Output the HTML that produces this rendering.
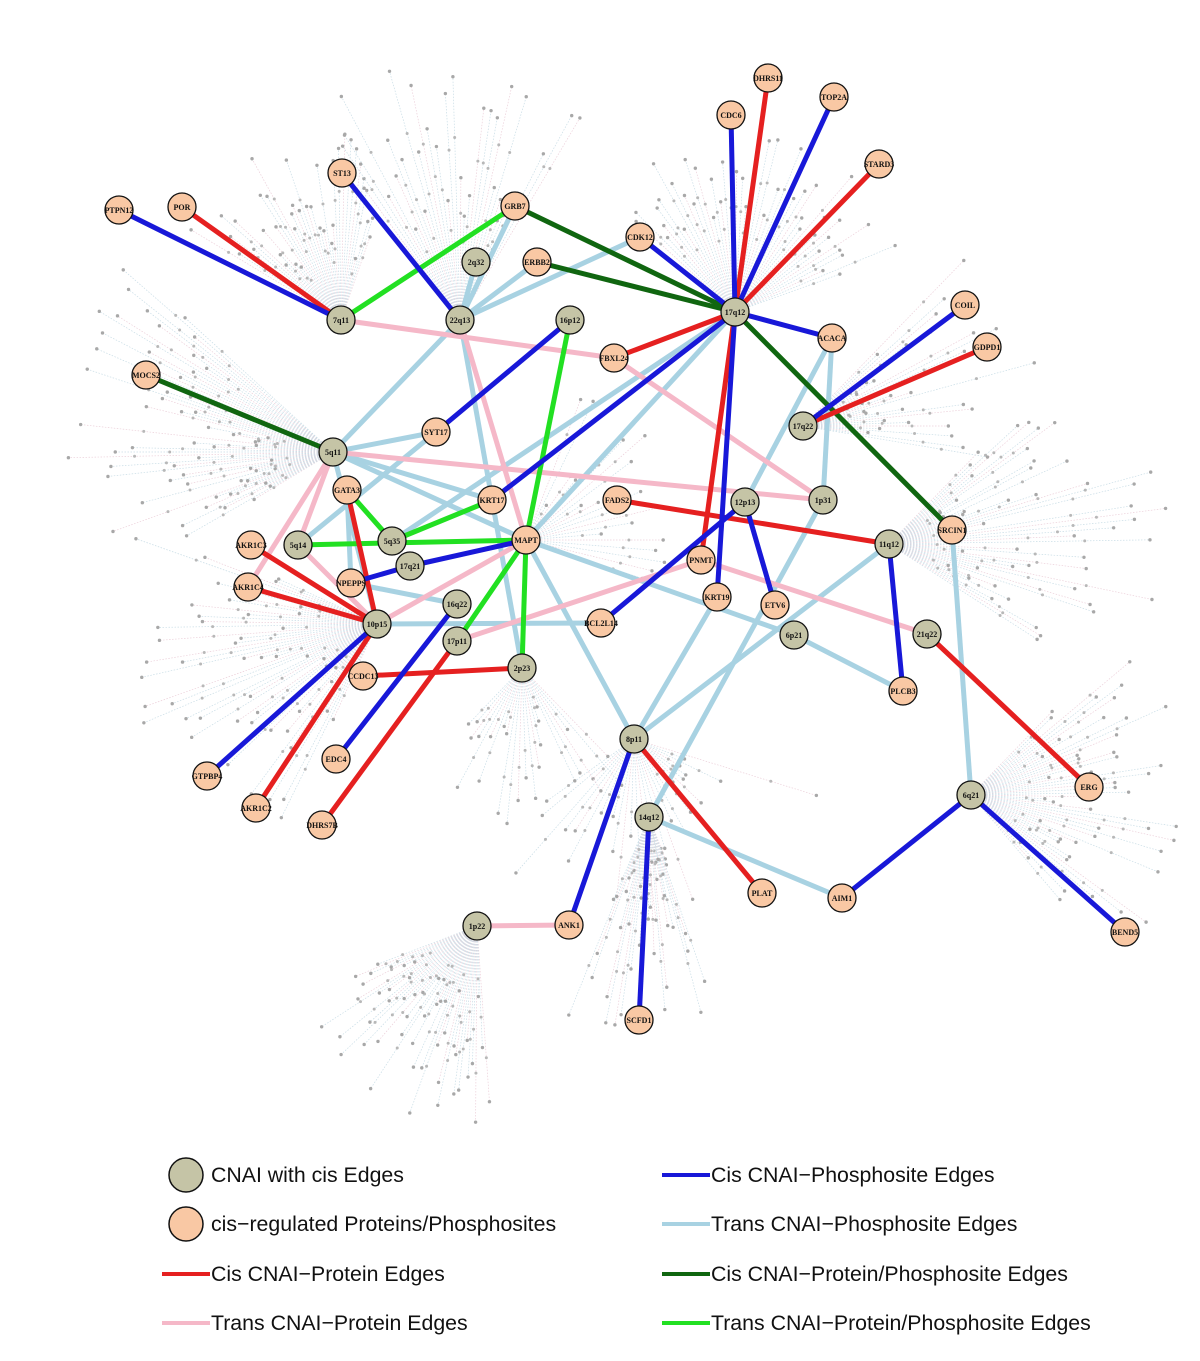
<!DOCTYPE html>
<html><head><meta charset="utf-8">
<style>
html,body{margin:0;padding:0;background:#fff;}
svg{display:block;}
.lg{font-family:"Liberation Sans",sans-serif;font-size:21.3px;fill:#111;}
.nl{font-family:"Liberation Serif",serif;font-size:8px;font-weight:bold;fill:#111;text-anchor:middle;dominant-baseline:central;}
</style></head>
<body>
<svg id="s" width="1200" height="1361" xmlns="http://www.w3.org/2000/svg">
<g id="fan"></g>
<g id="edges"></g>
<g id="nodes"></g>
<g>
<circle cx="186" cy="1175" r="17" fill="#c5c4a6" stroke="#111" stroke-width="1.5"/>
<circle cx="186" cy="1224" r="17" fill="#f9c8a4" stroke="#111" stroke-width="1.5"/>
<line x1="162" y1="1274" x2="210" y2="1274" stroke="#e52020" stroke-width="4"/>
<line x1="162" y1="1323" x2="210" y2="1323" stroke="#f5b8c8" stroke-width="4"/>
<line x1="662" y1="1175" x2="710" y2="1175" stroke="#1818d8" stroke-width="4"/>
<line x1="662" y1="1224" x2="710" y2="1224" stroke="#a8d2e2" stroke-width="4"/>
<line x1="662" y1="1274" x2="710" y2="1274" stroke="#106610" stroke-width="4"/>
<line x1="662" y1="1323" x2="710" y2="1323" stroke="#22e022" stroke-width="4"/>
<text class="lg" x="211" y="1182">CNAI with cis Edges</text>
<text class="lg" x="211" y="1231">cis−regulated Proteins/Phosphosites</text>
<text class="lg" x="211" y="1281">Cis CNAI−Protein Edges</text>
<text class="lg" x="211" y="1330">Trans CNAI−Protein Edges</text>
<text class="lg" x="711" y="1182">Cis CNAI−Phosphosite Edges</text>
<text class="lg" x="711" y="1231">Trans CNAI−Phosphosite Edges</text>
<text class="lg" x="711" y="1281">Cis CNAI−Protein/Phosphosite Edges</text>
<text class="lg" x="711" y="1330">Trans CNAI−Protein/Phosphosite Edges</text>
</g>
</svg>
<script>
var N={
'7q11':[341,320,0],'22q13':[460,320,0],'2q32':[476,262,0],'16p12':[570,320,0],'17q12':[735,312,0],'17q22':[803,426,0],'5q11':[333,452,0],'1p31':[823,500,0],'12p13':[745,502,0],'11q12':[889,544,0],'5q14':[298,545,0],'5q35':[392,541,0],'17q21':[410,566,0],'16q22':[457,604,0],'10p15':[377,624,0],'17p11':[457,641,0],'2p23':[522,668,0],'6p21':[794,635,0],'21q22':[927,634,0],'8p11':[634,739,0],'14q12':[649,817,0],'6q21':[971,795,0],'1p22':[477,926,0],
'PTPN12':[119,210,1],'POR':[182,207,1],'ST13':[342,173,1],'GRB7':[515,206,1],'ERBB2':[537,262,1],'CDK12':[640,237,1],'CDC6':[731,115,1],'DHRS11':[768,78,1],'TOP2A':[834,97,1],'STARD3':[879,164,1],'COIL':[965,305,1],'GDPD1':[987,347,1],'ACACA':[832,338,1],'FBXL24':[614,358,1],'MOCS2':[146,375,1],'SYT17':[436,432,1],'GATA3':[347,490,1],'KRT17':[492,500,1],'FADS2':[617,500,1],'MAPT':[526,540,1],'AKR1C3':[251,545,1],'AKR1C4':[248,587,1],'NPEPPS':[351,583,1],'PNMT':[701,560,1],'KRT19':[717,597,1],'ETV6':[775,605,1],'BCL2L14':[601,623,1],'SRCIN1':[952,530,1],'CCDC13':[363,676,1],'PLCB3':[903,691,1],'EDC4':[336,759,1],'GTPBP4':[207,776,1],'AKR1C2':[256,808,1],'DHRS7B':[322,825,1],'ERG':[1089,787,1],'PLAT':[762,893,1],'AIM1':[842,898,1],'ANK1':[569,925,1],'BEND5':[1125,932,1],'SCFD1':[639,1020,1]};
var C={lb:'#a8d2e2',pk:'#f5b8c8',b:'#1818d8',r:'#e52020',dg:'#106610',g:'#22e022'};
var E=[
['lb','2q32','22q13'],['lb','GRB7','22q13'],['lb','22q13','CDK12'],['lb','22q13','ERBB2'],['lb','5q11','SYT17'],['lb','5q11','22q13'],['lb','5q11','MAPT'],['lb','5q11','KRT17'],['lb','5q11','10p15'],['lb','1p31','ACACA'],['lb','12p13','ACACA'],['lb','MAPT','8p11'],['lb','8p11','KRT19'],['lb','14q12','1p31'],['lb','14q12','AIM1'],['lb','6q21','SRCIN1'],['lb','6p21','PLCB3'],['lb','6p21','MAPT'],['lb','10p15','BCL2L14'],['lb','8p11','11q12'],['lb','17q12','5q35'],['lb','NPEPPS','16q22'],['lb','22q13','2p23'],['lb','17q12','MAPT'],['lb','5q14','SYT17'],['lb','GATA3','NPEPPS'],
['pk','7q11','FBXL24'],['pk','22q13','MAPT'],['pk','FBXL24','1p31'],['pk','5q11','1p31'],['pk','5q11','5q14'],['pk','17p11','PNMT'],['pk','PNMT','21q22'],['pk','1p22','ANK1'],['pk','5q11','AKR1C4'],['pk','10p15','MAPT'],['pk','5q14','10p15'],
['g','GRB7','7q11'],['g','16p12','MAPT'],['g','5q35','KRT17'],['g','5q14','MAPT'],['g','MAPT','17p11'],['g','GATA3','5q35'],['g','MAPT','2p23'],
['dg','GRB7','17q12'],['dg','ERBB2','17q12'],['dg','MOCS2','5q11'],['dg','17q12','SRCIN1'],
['r','POR','7q11'],['r','DHRS11','17q12'],['r','STARD3','17q12'],['r','FBXL24','17q12'],['r','GDPD1','17q22'],['r','FADS2','11q12'],['r','17q12','PNMT'],['r','GATA3','10p15'],['r','AKR1C3','10p15'],['r','AKR1C4','10p15'],['r','AKR1C2','10p15'],['r','DHRS7B','17p11'],['r','CCDC13','2p23'],['r','8p11','PLAT'],['r','21q22','ERG'],
['b','PTPN12','7q11'],['b','ST13','22q13'],['b','CDK12','17q12'],['b','CDC6','17q12'],['b','TOP2A','17q12'],['b','17q12','ACACA'],['b','COIL','17q22'],['b','16p12','SYT17'],['b','17q12','KRT17'],['b','17q12','KRT19'],['b','12p13','ETV6'],['b','11q12','PLCB3'],['b','17q21','MAPT'],['b','10p15','GTPBP4'],['b','EDC4','16q22'],['b','8p11','ANK1'],['b','14q12','SCFD1'],['b','6q21','AIM1'],['b','6q21','BEND5'],['b','BCL2L14','12p13'],['b','NPEPPS','17q21']];
var ns='http://www.w3.org/2000/svg';
function el(t,a,p){var e=document.createElementNS(ns,t);for(var k in a)e.setAttribute(k,a[k]);p.appendChild(e);return e;}
var fan=document.getElementById('fan');
var seed=7;function rnd(){seed=(seed*9301+49297)%233280;return seed/233280;}
var hubs=[['17q12',-2.4,-0.3,90,180,45],['7q11',-2.6,-1.2,60,190,40],['22q13',-2.2,-1.0,100,260,34],['5q11',2.6,3.9,60,280,60],['1p22',1.5,2.8,60,200,50],['14q12',1.2,2.0,40,220,36],['6q21',-0.8,0.9,60,220,50],['11q12',-0.8,0.6,60,280,50],['8p11',0.3,2.6,40,200,30],['10p15',2.0,3.6,60,260,54],['17q22',-0.8,0.2,60,240,30],['2p23',0.8,2.4,40,160,24],['MAPT',-1.2,0.4,40,160,20]];
hubs.forEach(function(h){var c=N[h[0]];for(var i=0;i<h[5];i++){var a=h[1]+(h[2]-h[1])*i/h[5];var d=h[3]+(h[4]-h[3])*rnd();var x=c[0]+d*Math.cos(a),y=c[1]+d*Math.sin(a);
el('line',{x1:c[0],y1:c[1],x2:x,y2:y,stroke:(i%3?'#c9dde6':'#ecd0da'),'stroke-width':0.7,'stroke-dasharray':'1.5 1.5'},fan);
el('circle',{cx:x,cy:y,r:1.7,fill:'#a8a8a8'},fan);
var d2=d*0.75;el('circle',{cx:c[0]+d2*Math.cos(a),cy:c[1]+d2*Math.sin(a),r:1.5,fill:'#b8b8b8'},fan);}});
var eg=document.getElementById('edges');
E.forEach(function(e){var a=N[e[1]],b=N[e[2]];el('line',{x1:a[0],y1:a[1],x2:b[0],y2:b[1],stroke:C[e[0]],'stroke-width':5},eg);});
var ng=document.getElementById('nodes');
for(var k in N){var n=N[k];el('circle',{cx:n[0],cy:n[1],r:14,fill:n[2]?'#f9c8a4':'#c5c4a6',stroke:'#111','stroke-width':1.3},ng);
var t=el('text',{x:n[0],y:n[1]+0.5,'class':'nl'},ng);t.textContent=k;}
</script>
</body></html>
